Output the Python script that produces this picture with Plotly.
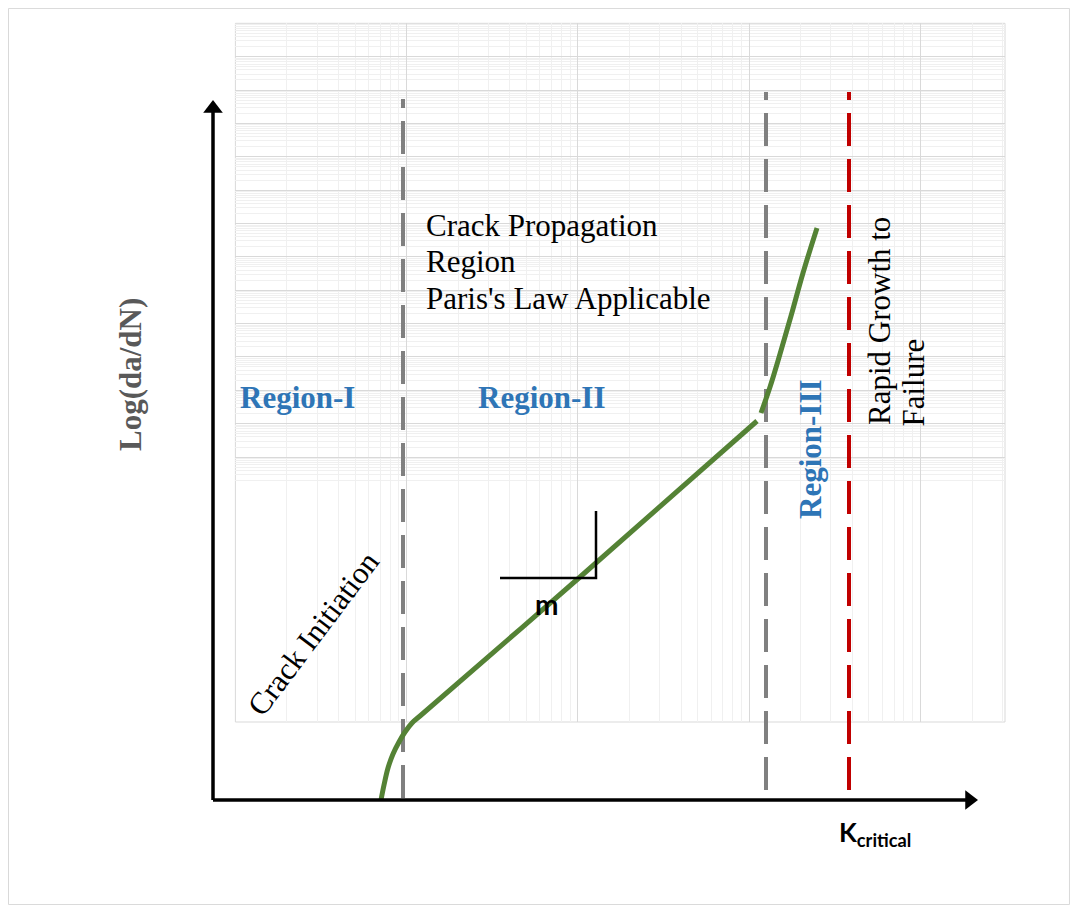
import plotly.graph_objects as go

W, H = 1062, 897   # page adds an 8px body margin around the figure

# ---- schematic data (x: log(dK) units, y: log(da/dN) units) ----
lower_curve_x = [1.68, 1.71, 1.75, 1.80, 1.86, 1.92, 1.99, 2.07, 3.67, 5.44]
lower_curve_y = [0.00, 0.15, 0.32, 0.46, 0.58, 0.68, 0.77, 0.84, 2.23, 3.79]
upper_curve_x = [5.48, 5.57, 5.67, 5.78, 5.90, 6.04]
upper_curve_y = [3.87, 4.13, 4.46, 4.84, 5.27, 5.72]
slope_x = [2.87, 3.83, 3.83]
slope_y = [2.22, 2.22, 2.89]
threshold_x = [1.90, 1.90]
threshold_y = [0.02, 7.01]
transition_x = [5.53, 5.53]
transition_y = [0.10, 7.08]
critical_x = [6.36, 6.36]
critical_y = [0.10, 7.08]
x_axis_end = 7.65
y_axis_end = 7.00
head_size = 17

# background log grid ranges (decades)
grid_x_range = [0, 4.493]
grid_y_range = [0.162, 14.0]

SERIF = "Liberation Serif"
SANS = "Lato"
BLUE = "#2e75b6"
GREEN = "#548235"

fig = go.Figure()

# empty traces so the background grid subplots are rendered
fig.add_trace(go.Scatter(x=[], y=[], xaxis="x", yaxis="y", showlegend=False, hoverinfo="skip"))
fig.add_trace(go.Scatter(x=[], y=[], xaxis="x", yaxis="y2", showlegend=False, hoverinfo="skip"))

def line(x, y, color, width, dash="solid", shape="linear"):
    fig.add_trace(go.Scatter(x=x, y=y, mode="lines", xaxis="x3", yaxis="y3",
                             line=dict(color=color, width=width, dash=dash, shape=shape, smoothing=1.0),
                             showlegend=False, hoverinfo="skip"))

DASH = "33px,13px"
line(threshold_x, threshold_y, "#808080", 4, DASH)
line(transition_x, transition_y, "#808080", 4, DASH)
line(critical_x, critical_y, "#c00000", 4, DASH)
line(lower_curve_x, lower_curve_y, GREEN, 5, shape="spline")
line(upper_curve_x, upper_curve_y, GREEN, 5, shape="spline")
line(slope_x, slope_y, "black", 2.5)

# axis arrows (shaft + triangular head)
r = head_size / 2 / 100.0
line([0, 0], [0, y_axis_end - r], "black", 3.5)
line([0, x_axis_end - r], [0, 0], "black", 3.5)
fig.add_trace(go.Scatter(x=[0], y=[y_axis_end - r], mode="markers", xaxis="x3", yaxis="y3",
                         marker=dict(symbol="triangle-up", size=head_size, color="black", line=dict(width=0)),
                         showlegend=False, hoverinfo="skip"))
fig.add_trace(go.Scatter(x=[x_axis_end - r], y=[0], mode="markers", xaxis="x3", yaxis="y3",
                         marker=dict(symbol="triangle-right", size=head_size, color="black", line=dict(width=0)),
                         showlegend=False, hoverinfo="skip"))

OFF = 8
px = lambda v: (v - OFF) / W
py = lambda v: 1 - (v - OFF) / H

fig.update_layout(
    width=W, height=H,
    margin=dict(l=0, r=0, t=0, b=0),
    paper_bgcolor="white",
    plot_bgcolor="rgba(0,0,0,0)",
    xaxis=dict(type="log", domain=[px(235.4), px(1005)], range=grid_x_range, anchor="y",
               dtick=1, showgrid=True, gridcolor="#d9d9d9", gridwidth=1,
               minor=dict(dtick="D1", showgrid=True, gridcolor="#f0f0f0", gridwidth=1),
               showticklabels=False, ticks="", zeroline=False, showline=False),
    yaxis=dict(domain=[py(722), py(23.3)], range=[0, 1], anchor="x",
               showgrid=False, showticklabels=False, ticks="", zeroline=False, showline=False),
    yaxis2=dict(type="log", domain=[py(485), py(23.3)], range=grid_y_range, anchor="x",
                dtick=1, showgrid=True, gridcolor="#d9d9d9", gridwidth=1,
                minor=dict(dtick="D1", showgrid=True, gridcolor="#f0f0f0", gridwidth=1),
                showticklabels=False, ticks="", zeroline=False, showline=False),
    xaxis3=dict(domain=[0, 1], range=[-(213 - OFF) / 100, (W - (213 - OFF)) / 100], anchor="y3", visible=False),
    yaxis3=dict(domain=[0, 1], range=[-(H - (800 - OFF)) / 100, (800 - OFF) / 100], anchor="x3", visible=False),
)

shapes = [
    dict(type="rect", xref="paper", yref="paper", x0=px(235.4), x1=px(1005), y0=py(722), y1=py(23.3),
         line=dict(color="#d9d9d9", width=1), layer="below"),
    dict(type="rect", xref="paper", yref="paper", x0=0.0005, x1=0.9995, y0=0.0005, y1=0.9995,
         line=dict(color="#d9d9d9", width=1), layer="below"),
]
fig.update_layout(shapes=shapes)

ann = []

def text(x, y, t, size=31, color="black", family=SERIF, angle=0, xanchor="center", bold=False):
    ann.append(dict(x=x, y=y, xref="x3", yref="y3", text=(f"<b>{t}</b>" if bold else t),
                    showarrow=False, textangle=angle, xanchor=xanchor, yanchor="middle",
                    font=dict(family=family, size=size, color=color), align="left"))

text(-0.83, 4.25, "Log(da/dN)", size=31, color="#595959", angle=-90, bold=True)
text(0.84, 4.03, "Region-I", color=BLUE, bold=True)
text(3.28, 4.03, "Region-II", color=BLUE, bold=True)
text(5.97, 3.51, "Region-III", color=BLUE, bold=True, angle=-90)
text(1.00, 1.67, "Crack Initiation", angle=-53)
text(2.11, 5.75, "Crack Propagation", xanchor="left")
text(2.11, 5.385, "Region", xanchor="left")
text(2.11, 5.02, "Paris's Law Applicable", xanchor="left")
text(6.66, 4.79, "Rapid Growth to", angle=-90)
text(7.00, 4.175, "Failure", angle=-90)
text(3.33, 1.96, "m", size=28, family=SANS, bold=True)
text(6.62, -0.33, "K<sub>critical</sub>", size=26, family=SANS, bold=True)

fig.update_layout(annotations=ann)

fig.write_html("out.html")
